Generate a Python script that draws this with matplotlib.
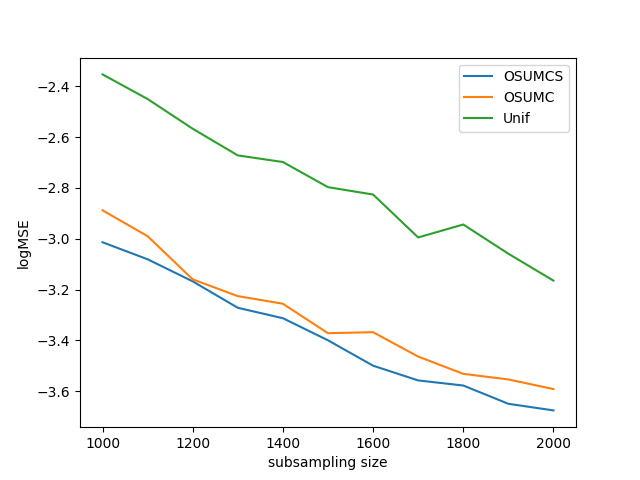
import matplotlib
matplotlib.use("Agg")
import matplotlib.pyplot as plt

# subsampling sizes
sizes = [1000, 1100, 1200, 1300, 1400, 1500, 1600, 1700, 1800, 1900, 2000]

# logMSE for each method
osumcs = [-3.014, -3.081, -3.168, -3.272, -3.313, -3.400, -3.500, -3.558, -3.578, -3.650, -3.676]
osumc = [-2.888, -2.990, -3.160, -3.226, -3.256, -3.372, -3.368, -3.464, -3.532, -3.554, -3.592]
unif = [-2.353, -2.450, -2.567, -2.672, -2.698, -2.797, -2.826, -2.995, -2.944, -3.059, -3.165]

fig = plt.figure(figsize=(6.4, 4.8), dpi=100)
plt.plot(sizes, osumcs, label="OSUMCS")
plt.plot(sizes, osumc, label="OSUMC")
plt.plot(sizes, unif, label="Unif")
plt.legend()
plt.xlabel("subsampling size")
plt.ylabel("logMSE")
plt.savefig("out.png")
